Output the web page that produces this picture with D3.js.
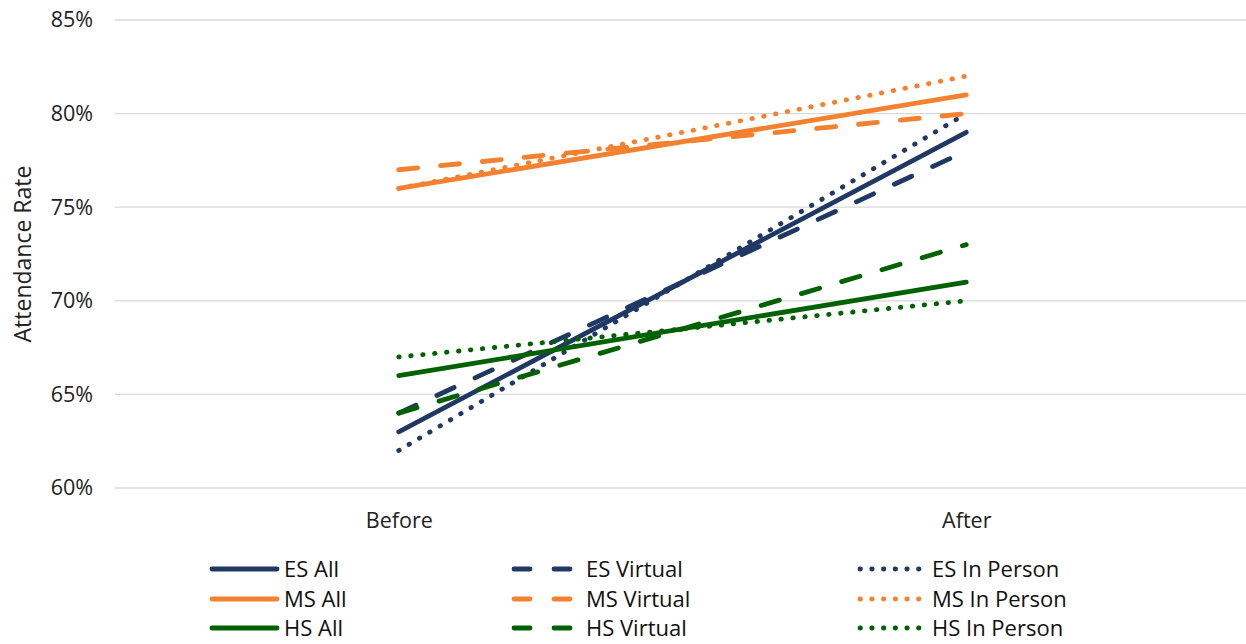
<!DOCTYPE html>
<html>
<head>
<meta charset="utf-8">
<script src="https://cdn.jsdelivr.net/npm/d3@7"></script>
<style>
  html, body { margin: 0; padding: 0; background: #fff; }
  svg { display: block; font-family: "Open Sans", "Liberation Sans", sans-serif; }
</style>
</head>
<body>
<svg id="chart" width="1246" height="644"></svg>
<script>
// Attendance rate before and after, by school level and learning mode
const periods = ["Before", "After"];
const seriesNames = ["ES All", "ES Virtual", "ES In Person",
                     "MS All", "MS Virtual", "MS In Person",
                     "HS All", "HS Virtual", "HS In Person"];
const esAll = [63, 79];
const esVirtual = [64, 78];
const esInPerson = [62, 80];
const msAll = [76, 81];
const msVirtual = [77, 80];
const msInPerson = [76, 82];
const hsAll = [66, 71];
const hsVirtual = [64, 73];
const hsInPerson = [67, 70];
const yTicks = [60, 65, 70, 75, 80, 85];

const levelColors = { ES: "#1F3864", MS: "#F4812F", HS: "#006100" };
const modeDash = { "All": null, "Virtual": "19,23", "In Person": "0.5,11.5" };

const seriesValues = [esAll, esVirtual, esInPerson, msAll, msVirtual, msInPerson, hsAll, hsVirtual, hsInPerson];
const series = seriesNames.map((name, i) => {
  const level = name.slice(0, 2);
  const mode = name.slice(3);
  return { name, level, mode, values: seriesValues[i] };
});

const svg = d3.select("#chart");
const plotLeft = 115, plotRight = 1250, plotTop = 20, plotBottom = 488;
const fontSize = 21.5;

const x = d3.scalePoint().domain(periods).range([plotLeft, plotRight]).padding(0.5);
const y = d3.scaleLinear().domain([60, 85]).range([plotBottom, plotTop]);

// Gridlines
svg.append("g")
  .selectAll("line")
  .data(yTicks)
  .join("line")
  .attr("x1", plotLeft).attr("x2", plotRight)
  .attr("y1", d => y(d)).attr("y2", d => y(d))
  .attr("stroke", "#d9d9d9").attr("stroke-width", 1.3);

// Y axis labels
const yAxis = d3.axisLeft(y).tickValues(yTicks).tickFormat(d => d + "%").tickSize(0).tickPadding(0);
const yg = svg.append("g").attr("transform", "translate(93,0)").call(yAxis);
yg.select(".domain").remove();
yg.selectAll("text").attr("font-size", fontSize).attr("fill", "#222").attr("font-family", "Open Sans, sans-serif");

// X axis labels
const xAxis = d3.axisBottom(x).tickSize(0).tickPadding(0);
const xg = svg.append("g").attr("transform", "translate(0,513)").call(xAxis);
xg.select(".domain").remove();
xg.selectAll("text").attr("font-size", fontSize).attr("fill", "#222").attr("font-family", "Open Sans, sans-serif");

// Y axis title
svg.append("text")
  .attr("transform", "translate(31,254) rotate(-90)")
  .attr("text-anchor", "middle")
  .attr("font-size", 23).attr("fill", "#222")
  .text("Attendance Rate");

// Series lines
const line = d3.line().x((d, i) => x(periods[i])).y(d => y(d));
svg.append("g")
  .selectAll("path")
  .data(series)
  .join("path")
  .attr("d", d => line(d.values))
  .attr("fill", "none")
  .attr("stroke", d => levelColors[d.level])
  .attr("stroke-width", 4.8)
  .attr("stroke-linecap", "round")
  .attr("stroke-dasharray", d => modeDash[d.mode]);

// Legend: three columns (All / Virtual / In Person), three rows (ES / MS / HS)
const colX = { "All": 212, "Virtual": 514, "In Person": 860 };
const rowY = { ES: 569, MS: 599, HS: 628 };
const leg = svg.append("g");
series.forEach(s => {
  const x0 = colX[s.mode], yy = rowY[s.level];
  leg.append("line")
    .attr("x1", x0).attr("x2", x0 + 65)
    .attr("y1", yy).attr("y2", yy)
    .attr("stroke", levelColors[s.level])
    .attr("stroke-width", 4.8)
    .attr("stroke-linecap", "round")
    .attr("stroke-dasharray", s.mode === "Virtual" ? "16,24" : s.mode === "In Person" ? "0.5,11.2" : null);
  leg.append("text")
    .attr("x", x0 + 72)
    .attr("y", yy)
    .attr("dy", "0.35em")
    .attr("font-size", 22).attr("fill", "#111")
    .text(s.name);
});
</script>
</body>
</html>
